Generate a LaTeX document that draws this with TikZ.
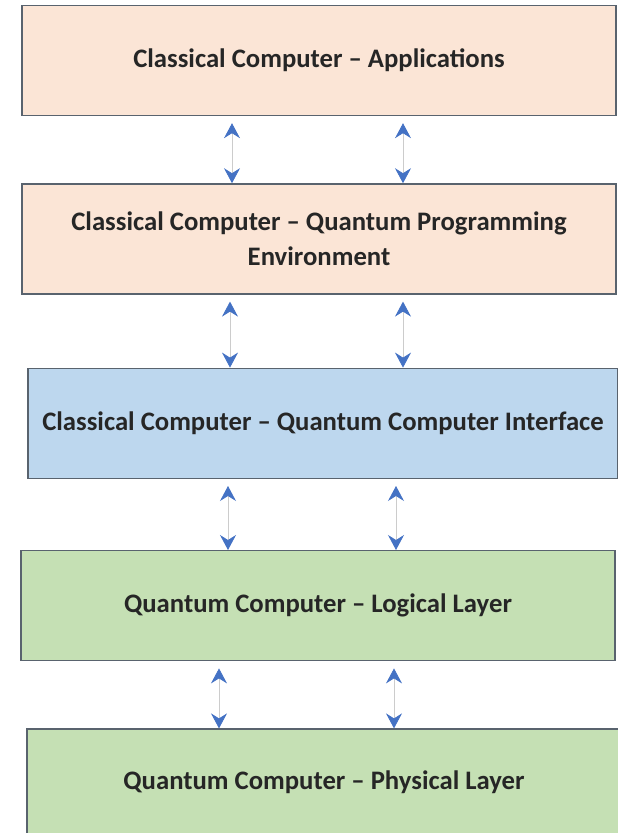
\documentclass[tikz,border=0pt]{standalone}
\usepackage{fontspec}
\setmainfont{Carlito}
\usetikzlibrary{positioning, arrows.meta}
\definecolor{peach}{HTML}{FBE5D6}
\definecolor{skyblue}{HTML}{BDD7EE}
\definecolor{leafgreen}{HTML}{C5E0B4}
\definecolor{edgegray}{HTML}{59636E}
\definecolor{tipblue}{HTML}{4472C4}
\tikzstyle{layer} = [rectangle, minimum width=594pt, minimum height=110pt, text centered, align=center, draw=edgegray, line width=1.4pt, font=\bfseries\fontsize{26.7}{35}\selectfont, text=black!85]
\tikzstyle{classical} = [layer, fill=peach]
\tikzstyle{bridge} = [layer, fill=skyblue, minimum width=590pt]
\tikzstyle{quantum} = [layer, fill=leafgreen]
\tikzstyle{arrow} = [line width=0.8pt, draw=gray!40, {Stealth[length=15pt, width=16pt, inset=5pt, color=tipblue]}-{Stealth[length=15pt, width=16pt, inset=5pt, color=tipblue]}, shorten <=7pt]

\begin{document}
\begin{tikzpicture}[node distance=70pt]
	\useasboundingbox (0pt,0pt) rectangle (618pt,-833pt);
	\node (app) [classical] at (319pt,-60.5pt) {Classical Computer -- Applications};
	\node (qpe) [classical, below=67pt of app] {Classical Computer -- Quantum Programming\\Environment};
	\node (iface) [bridge, below=73pt of qpe, xshift=4pt] {Classical Computer -- Quantum Computer Interface};
	\node (logic) [quantum, below=71pt of iface, xshift=-5pt] {Quantum Computer -- Logical Layer};
	\node (phys) [quantum, below=67pt of logic, xshift=6pt, minimum height=107pt] {Quantum Computer -- Physical Layer};

	\draw [arrow] ([xshift=-87pt]app.south) -- ([xshift=-87pt]app.south |- qpe.north);
	\draw [arrow] ([xshift=84pt]app.south) -- ([xshift=84pt]app.south |- qpe.north);
	\draw [arrow] ([xshift=-89pt]qpe.south) -- ([xshift=-89pt]qpe.south |- iface.north);
	\draw [arrow] ([xshift=84pt]qpe.south) -- ([xshift=84pt]qpe.south |- iface.north);
	\draw [arrow] ([xshift=-95pt]iface.south) -- ([xshift=-95pt]iface.south |- logic.north);
	\draw [arrow] ([xshift=73pt]iface.south) -- ([xshift=73pt]iface.south |- logic.north);
	\draw [arrow] ([xshift=-99pt]logic.south) -- ([xshift=-99pt]logic.south |- phys.north);
	\draw [arrow] ([xshift=76pt]logic.south) -- ([xshift=76pt]logic.south |- phys.north);
\end{tikzpicture}
\end{document}
